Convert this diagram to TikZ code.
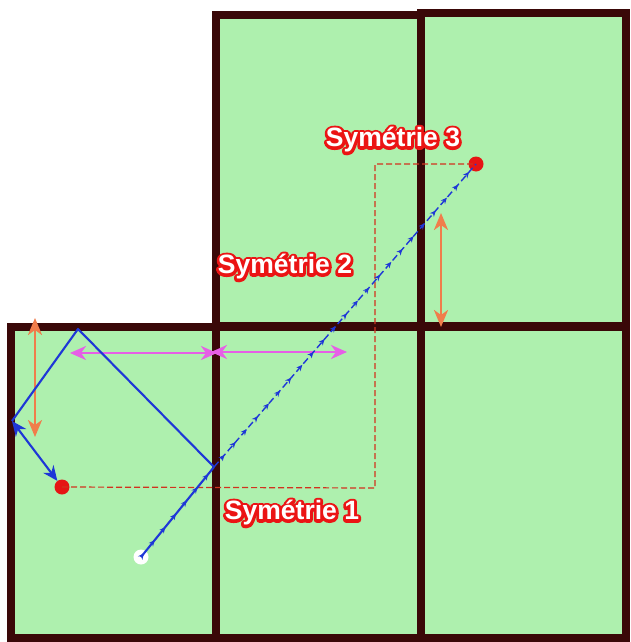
\documentclass[tikz,border=0pt]{standalone}
\usepackage{fontspec}
\newfontfamily\lblfont{Liberation Sans}
\usetikzlibrary{arrows.meta,decorations.markings}
\definecolor{felt}{RGB}{174,240,174}
\definecolor{rail}{RGB}{58,8,8}
\definecolor{bluepath}{RGB}{30,55,215}
\definecolor{guide}{RGB}{210,50,30}
\definecolor{orangearr}{RGB}{240,125,75}
\definecolor{magarr}{RGB}{230,95,230}
\definecolor{symred}{RGB}{235,20,20}
\definecolor{ballred}{RGB}{230,20,20}
\newcommand{\outlinedtext}[3]{%
  \node[symlbl,text=symred] at (#2) {\special{pdf:literal direct 0.92 0.08 0.08 RG 5.6 w 1 j 2 Tr}#3\special{pdf:literal direct 0 Tr}};
  \node[symlbl,text=white] (#1) at (#2) {#3};}
\begin{document}
\begin{tikzpicture}[x=1pt,y=-1pt,
  tablefill/.style={fill=felt},
  tablerail/.style={draw=rail,line width=8.5pt},
  ball/.style={circle,inner sep=0pt,minimum size=15pt},
  shotpath/.style={draw=bluepath,line width=2.1pt},
  flowmarks/.style={postaction={decorate},decoration={markings,
     mark=between positions 0.04 and 0.98 step 17pt with {\arrow{Stealth[length=6pt,width=5.5pt]}}}},
  guideline/.style={draw=guide,line width=1.2pt,dash pattern=on 6pt off 3pt},
  orangedim/.style={draw=orangearr,line width=2.6pt,{Stealth[length=17pt,width=14pt,inset=5pt]}-{Stealth[length=17pt,width=14pt,inset=5pt]}},
  magdim/.style={draw=magarr,line width=2.6pt,{Stealth[length=16pt,width=14pt,inset=5pt]}-{Stealth[length=16pt,width=14pt,inset=5pt]}},
  symlbl/.style={font=\lblfont\bfseries\fontsize{26.5}{30}\selectfont,inner sep=0pt}]
\useasboundingbox (0,0) rectangle (631,642);
\fill[white] (0,0) rectangle (631,642);
% tables: felt
\fill[tablefill] (11,327) rectangle (216,638);
\fill[tablefill] (216,327) rectangle (421,638);
\fill[tablefill] (421,327) rectangle (626,638);
\fill[tablefill] (216,15) rectangle (421,326);
\fill[tablefill] (421,13) rectangle (626,326);
% tables: rails
\draw[tablerail] (11,327) rectangle (216,638);
\draw[tablerail] (216,327) rectangle (421,638);
\draw[tablerail] (421,327) rectangle (626,638);
\draw[tablerail] (216,15) rectangle (421,326);
\draw[tablerail] (421,13) rectangle (626,326);
% key points
\coordinate (hit) at (214,467);
\coordinate (topc) at (78,329);
\coordinate (leftc) at (12,421);
\coordinate (g1) at (375,488);
\coordinate (g2) at (375,164);
% balls
\node[ball,fill=white] (cue) at (141,557) {};
\node[ball,fill=ballred] (obj1) at (62,487) {};
\node[ball,fill=ballred] (obj3) at (476,164) {};
% guide dashed line
\draw[guideline] (obj1.center) -- (g1) -- (g2) -- (obj3.center);
% orange and magenta dimension arrows
\coordinate (oa1) at (35,318); \coordinate (oa2) at (35,437);
\coordinate (ob1) at (441,213); \coordinate (ob2) at (441,327);
\draw[orangedim] (oa1) -- (oa2);
\draw[orangedim] (ob1) -- (ob2);
\coordinate (ma1) at (70,353); \coordinate (ma2) at (217,353);
\coordinate (mb1) at (211,352); \coordinate (mb2) at (347,352);
\draw[magdim] (ma1) -- (ma2);
\draw[magdim] (mb1) -- (mb2);
% blue shot path
\draw[shotpath,flowmarks] (cue.center) -- (hit);
\draw[shotpath,line width=1.4pt,dash pattern=on 7pt off 3.5pt,flowmarks] (hit) -- (obj3.center);
\draw[shotpath,line join=round] (hit) -- (topc) -- (leftc);
\draw[shotpath,{Stealth[length=15pt,width=13pt]}-{Stealth[length=15pt,width=13pt]}] (leftc) -- (obj1);
% labels
\outlinedtext{s1}{292,513}{Symétrie 1}
\outlinedtext{s2}{285,267}{Symétrie 2}
\outlinedtext{s3}{393,140}{Symétrie 3}
\end{tikzpicture}
\end{document}
